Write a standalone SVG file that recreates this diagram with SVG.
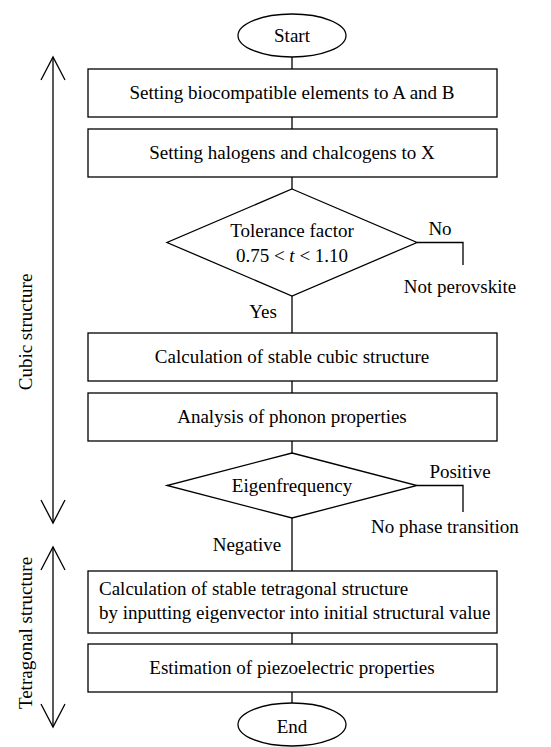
<svg xmlns="http://www.w3.org/2000/svg" width="551" height="747" viewBox="0 0 551 747" font-family="Liberation Serif, Times New Roman, serif" font-size="19">
<style>
.c{text-anchor:middle}
.s{fill:#fff;stroke:#000;stroke-width:1.3}
.l{fill:none;stroke:#000;stroke-width:1.3}
</style>
<rect width="551" height="747" fill="#fff"/>
<g id="connectors">
<line class="l" x1="292" y1="57" x2="292" y2="69"/>
<line class="l" x1="292" y1="117" x2="292" y2="129"/>
<line class="l" x1="292" y1="177" x2="292" y2="189"/>
<line class="l" x1="292" y1="296" x2="292" y2="333"/>
<line class="l" x1="292" y1="381" x2="292" y2="393"/>
<line class="l" x1="292" y1="441" x2="292" y2="453"/>
<line class="l" x1="292" y1="518" x2="292" y2="571"/>
<line class="l" x1="292" y1="633" x2="292" y2="644"/>
<line class="l" x1="292" y1="692" x2="292" y2="703"/>
<polyline class="l" points="417,242.5 463,242.5 463,265"/>
<polyline class="l" points="417,485.5 463,485.5 463,512"/>
<text class="c" x="440" y="235">No</text>
<text class="c" x="263" y="318">Yes</text>
<text class="c" x="460" y="478">Positive</text>
<text class="c" x="247" y="551">Negative</text>
</g>
<g id="start"><ellipse class="s" cx="292" cy="35.5" rx="54" ry="21.5"/><text class="c" x="292" y="42">Start</text></g>
<g id="box1"><rect class="s" x="88" y="69" width="409" height="48"/><text class="c" x="292" y="99">Setting biocompatible elements to A and B</text></g>
<g id="box2"><rect class="s" x="88" y="129" width="409" height="48"/><text class="c" x="292" y="159">Setting halogens and chalcogens to X</text></g>
<g id="tolerance"><polygon class="s" points="292,189 417,242.5 292,296 167,242.5"/><text class="c" x="292" y="237">Tolerance factor</text><text class="c" x="292" y="262">0.75 &lt; <tspan font-style="italic">t</tspan> &lt; 1.10</text></g>
<g id="notperovskite"><text class="c" x="460" y="293">Not perovskite</text></g>
<g id="box3"><rect class="s" x="88" y="333" width="409" height="48"/><text class="c" x="292" y="363">Calculation of stable cubic structure</text></g>
<g id="box4"><rect class="s" x="88" y="393" width="409" height="48"/><text class="c" x="292" y="423">Analysis of phonon properties</text></g>
<g id="eigen"><polygon class="s" points="292,453 417,485.5 292,518 167,485.5"/><text class="c" x="292" y="492">Eigenfrequency</text></g>
<g id="nophase"><text class="c" x="445" y="533">No phase transition</text></g>
<g id="box5"><rect class="s" x="88" y="571" width="409" height="62"/><text x="99" y="595">Calculation of stable tetragonal structure</text><text x="99" y="619">by inputting eigenvector into initial structural value</text></g>
<g id="box6"><rect class="s" x="88" y="644" width="409" height="48"/><text class="c" x="292" y="674">Estimation of piezoelectric properties</text></g>
<g id="end"><ellipse class="s" cx="292" cy="724.5" rx="54" ry="21.5"/><text class="c" x="292" y="733">End</text></g>
<g id="cubic-arrow">
<line class="l" x1="53" y1="57" x2="53" y2="523"/>
<polyline class="l" points="41,80 53,57 65,80"/>
<polyline class="l" points="41,500 53,523 65,500"/>
<text class="c" transform="translate(32,332) rotate(-90)">Cubic structure</text>
</g>
<g id="tetragonal-arrow">
<line class="l" x1="53" y1="547" x2="53" y2="727"/>
<polyline class="l" points="41,570 53,547 65,570"/>
<polyline class="l" points="41,704 53,727 65,704"/>
<text class="c" transform="translate(32,633) rotate(-90)">Tetragonal structure</text>
</g>
</svg>
